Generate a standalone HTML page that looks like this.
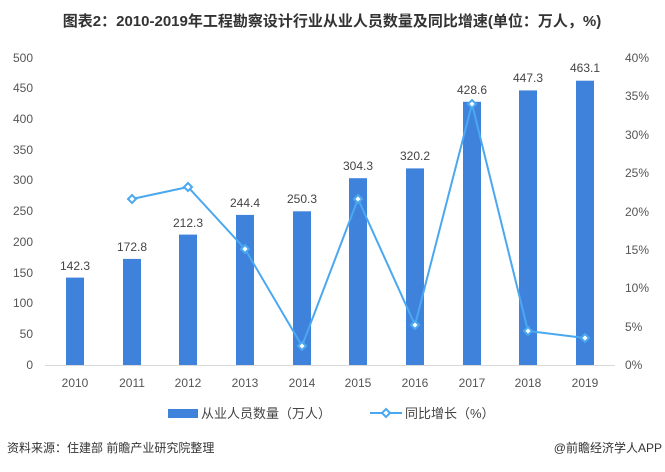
<!DOCTYPE html>
<html><head><meta charset="utf-8"><style>
body{margin:0;background:#fff;width:665px;height:467px;overflow:hidden;font-family:"Liberation Sans","Noto Sans CJK SC",sans-serif;}
</style></head><body>
<svg width="665" height="467" xmlns="http://www.w3.org/2000/svg" font-family="Liberation Sans, Noto Sans CJK SC, sans-serif">
<text x="332" y="26" text-anchor="middle" font-size="15" font-weight="bold" fill="#333">图表2：2010-2019年工程勘察设计行业从业人员数量及同比增速(单位：万人，%)</text>
<g font-size="12" fill="#555" text-anchor="end">
<text x="33" y="62">500</text><text x="33" y="92">450</text><text x="33" y="123">400</text><text x="33" y="154">350</text><text x="33" y="184">300</text><text x="33" y="215">250</text><text x="33" y="246">200</text><text x="33" y="277">150</text><text x="33" y="307">100</text><text x="33" y="338">50</text><text x="33" y="369">0</text>
</g>
<g font-size="12" fill="#555">
<text x="625" y="62">40%</text><text x="625" y="100">35%</text><text x="625" y="139">30%</text><text x="625" y="177">25%</text><text x="625" y="216">20%</text><text x="625" y="254">15%</text><text x="625" y="292">10%</text><text x="625" y="331">5%</text><text x="625" y="369">0%</text>
</g>
<line x1="45" y1="365.5" x2="615" y2="365.5" stroke="#d9d9d9"/>
<g fill="#3f82dc">
<rect x="66" y="277.6" width="18" height="87.4"/>
<rect x="123" y="258.9" width="18" height="106.1"/>
<rect x="179" y="234.6" width="18" height="130.4"/>
<rect x="236" y="214.9" width="18" height="150.1"/>
<rect x="293" y="211.3" width="18" height="153.7"/>
<rect x="349" y="178.2" width="18" height="186.8"/>
<rect x="406" y="168.4" width="18" height="196.6"/>
<rect x="463" y="101.8" width="18" height="263.2"/>
<rect x="519" y="90.4" width="18" height="274.6"/>
<rect x="576" y="80.7" width="18" height="284.3"/>
</g>
<g font-size="12" fill="#444" text-anchor="middle">
<text x="75" y="270">142.3</text><text x="132" y="251">172.8</text><text x="188" y="227">212.3</text><text x="245" y="207">244.4</text><text x="302" y="203">250.3</text><text x="358" y="170">304.3</text><text x="415" y="160">320.2</text><text x="472" y="94">428.6</text><text x="528" y="82">447.3</text><text x="585" y="72">463.1</text>
</g>
<polyline fill="none" stroke="#4aa8f0" stroke-width="2" points="132,199 188,187 245,249 302,346 358,199 415,325 472,104 528,331 585,338"/>
<g fill="#fff" stroke="#4aa8f0" stroke-width="2">
<path d="M132,195l4,4l-4,4l-4,-4z"/><path d="M188,183l4,4l-4,4l-4,-4z"/><path d="M245,245l4,4l-4,4l-4,-4z"/><path d="M302,342l4,4l-4,4l-4,-4z"/><path d="M358,195l4,4l-4,4l-4,-4z"/><path d="M415,321l4,4l-4,4l-4,-4z"/><path d="M472,100l4,4l-4,4l-4,-4z"/><path d="M528,327l4,4l-4,4l-4,-4z"/><path d="M585,334l4,4l-4,4l-4,-4z"/>
</g>
<g font-size="12" fill="#555" text-anchor="middle">
<text x="75" y="387">2010</text><text x="132" y="387">2011</text><text x="188" y="387">2012</text><text x="245" y="387">2013</text><text x="302" y="387">2014</text><text x="358" y="387">2015</text><text x="415" y="387">2016</text><text x="472" y="387">2017</text><text x="528" y="387">2018</text><text x="585" y="387">2019</text>
</g>
<rect x="168" y="409" width="30" height="9" fill="#3f82dc"/>
<text x="201" y="418" font-size="13" fill="#444">从业人员数量（万人）</text>
<line x1="370" y1="413" x2="402" y2="413" stroke="#4aa8f0" stroke-width="2"/>
<path d="M386,409l4,4l-4,4l-4,-4z" fill="#fff" stroke="#4aa8f0" stroke-width="2"/>
<text x="405" y="418" font-size="13" fill="#444">同比增长（%）</text>
<text x="7" y="452" font-size="12" fill="#333">资料来源：住建部 前瞻产业研究院整理</text>
<text x="662" y="452" font-size="12" fill="#333" text-anchor="end">@前瞻经济学人APP</text>
</svg>
</body></html>
